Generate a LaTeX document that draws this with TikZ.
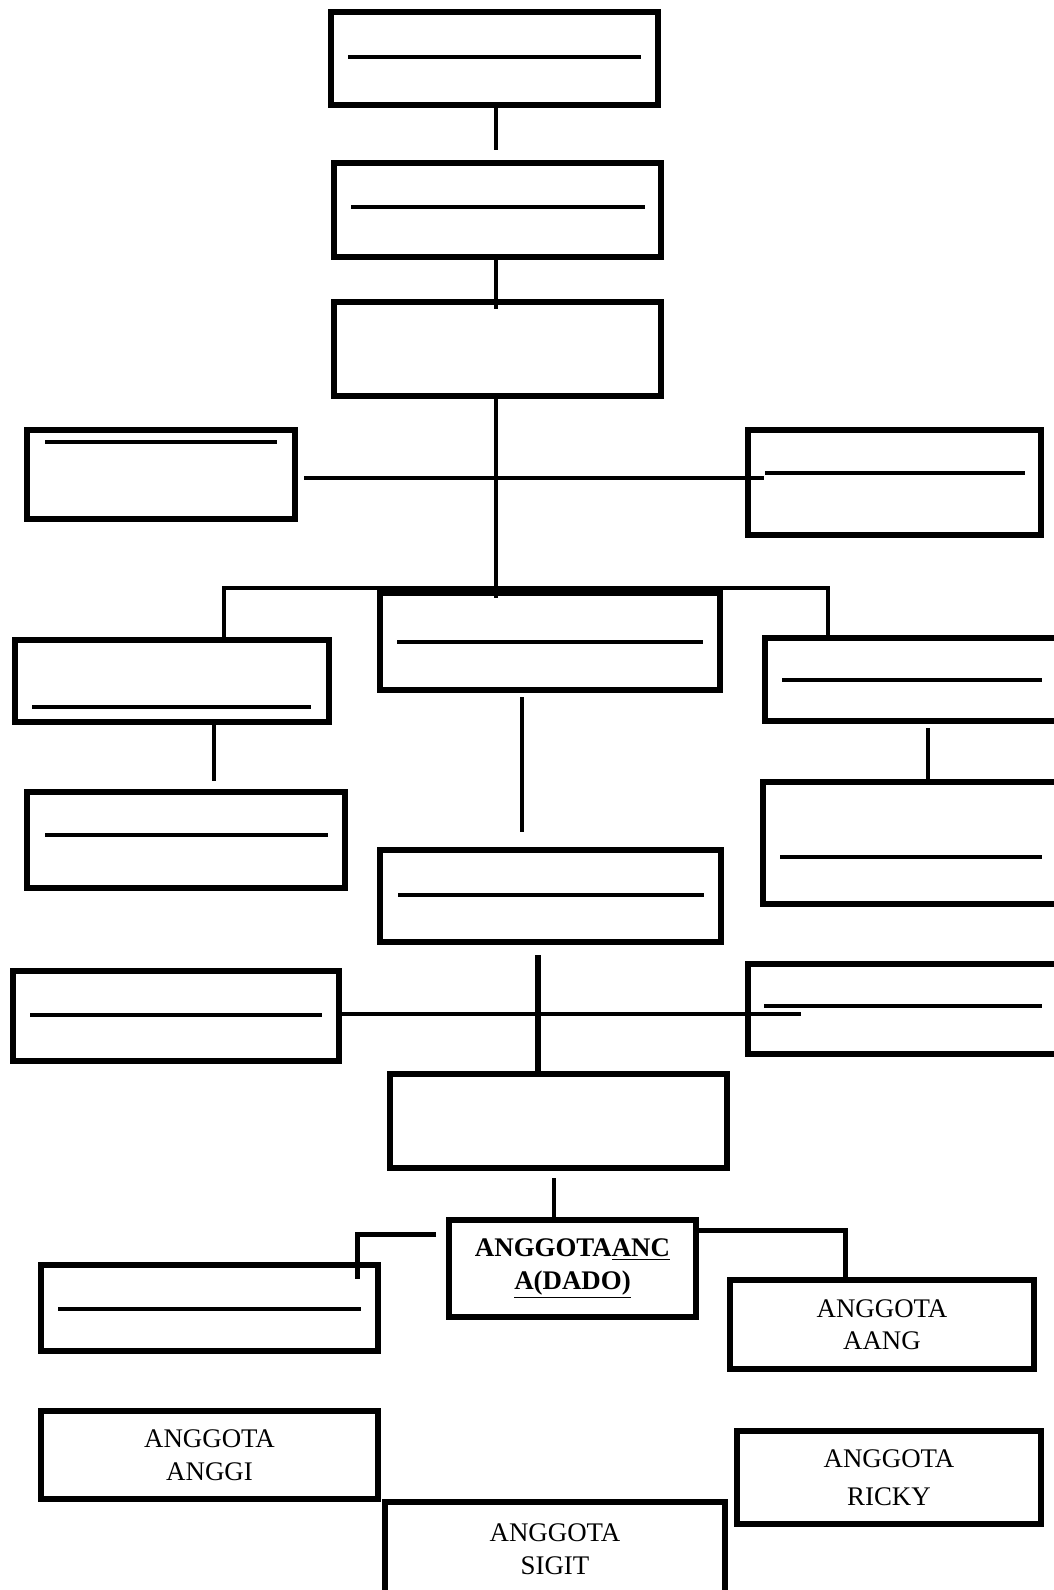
\documentclass[tikz,border=0pt]{standalone}
\usepackage{fontspec}
\setmainfont{Liberation Serif}

\begin{document}
\begin{tikzpicture}[x=0.02cm, y=-0.02cm,
    box/.style={draw, line width=0.11cm, inner sep=0pt, align=center,
      font=\fontsize{15.3}{18.5}\selectfont},
    conn/.style={line width=0.07cm},
    blank/.style={line width=0.08cm}]
    \useasboundingbox (0,0) rectangle (1054,1590);
    % Boxes with an empty line: {name/x1/y1/x2/y2/line y/line x1/line x2}
    \foreach \n/\xa/\ya/\xb/\yb/\ly/\la/\lb in {
        b1/331/12/658/105/57/348/641,
        b2/334/163/661/257/207/351/645,
        sl/27/430/295/519/442/45/277,
        sr/748/430/1041/535/473/765/1025,
        m/380/593/720/690/642/397/703,
        l2/15/640/329/722/707/32/311,
        r2/765/638/1065/721/680/782/1042,
        l3/27/792/345/888/835/45/328,
        c3/380/850/721/942/895/398/704,
        r3/763/782/1065/904/857/780/1042,
        l4/13/971/339/1061/1015/30/322,
        r4/748/964/1065/1054/1006/764/1042,
        l5/41/1265/378/1351/1309/58/361} {
      \node[box, minimum width={(\xb-\xa)*0.02cm}, minimum height={(\yb-\ya)*0.02cm}]
        (\n) at ({(\xa+\xb)/2},{(\ya+\yb)/2}) {};
      \draw[blank] (\la,\ly) -- (\lb,\ly);
    }
    % Boxes with a name (or nothing) in them
    \foreach \n/\xa/\ya/\xb/\yb/\t in {
        b3/334/302/661/396/{},
        c4/390/1074/727/1168/{},
        aang/730/1280/1034/1369/{ANGGOTA\\AANG},
        anggi/41/1411/378/1499/{ANGGOTA\\ANGGI},
        ricky/737/1431/1041/1524/{ANGGOTA\\[3pt]RICKY},
        sigit/385/1502/725/1596/{ANGGOTA\\SIGIT}} {
      \node[box, minimum width={(\xb-\xa)*0.02cm}, minimum height={(\yb-\ya)*0.02cm}]
        (\n) at ({(\xa+\xb)/2},{(\ya+\yb)/2}) {\t};
    }
    \node[box, font=\fontsize{15.3}{18.5}\selectfont\bfseries,
      minimum width=4.94cm, minimum height=1.94cm] (dado) at (572.5,1268.5)
      {ANGGOTA\underline{ANC}\\\underline{A(DADO)}};
    % Trunk
    \coordinate (t1) at (496,150);
    \coordinate (t2) at (496,309);
    \coordinate (t3) at (496,598);
    \draw[conn] (t1 |- b1.south) -- (t1);
    \draw[conn] (t2 |- b2.south) -- (t2);
    \draw[conn] (t3 |- b3.south) -- (t3);
    % Side bar
    \coordinate (sl1) at (304,478);
    \coordinate (sr1) at (764,478);
    \draw[conn] (sl1) -- (sr1);
    % Bar over the third row
    \coordinate (bl) at (224,588);
    \coordinate (br) at (828,588);
    \draw[conn] (bl |- l2.north) -- (bl) -- (br) -- (br |- r2.north);
    % Drops to the fourth row
    \coordinate (d1) at (214,781);
    \coordinate (d2) at (522,697);
    \coordinate (d3) at (522,832);
    \coordinate (d4) at (928,728);
    \draw[conn] (d1 |- l2.south) -- (d1);
    \draw[conn] (d2) -- (d3);
    \draw[conn] (d4) -- (d4 |- r3.north);
    % Cross under c3
    \coordinate (h1) at (801,1014);
    \coordinate (v1) at (538,955);
    \draw[conn] (l4.east |- h1) -- (h1);
    \draw[conn, line width=0.12cm] (v1) -- (v1 |- c4.north);
    % Down to the members
    \coordinate (d5) at (554,1178);
    \draw[conn] (d5) -- (d5 |- dado.north);
    \coordinate (kl0) at (436,1234);
    \coordinate (kl) at (357,1279);
    \coordinate (kr0) at (698,1230);
    \coordinate (kr) at (845,1280);
    \draw[conn, line width=0.1cm] (kl0) -| (kl);
    \draw[conn, line width=0.1cm] (kr0) -| (kr);
  \end{tikzpicture}
\end{document}
